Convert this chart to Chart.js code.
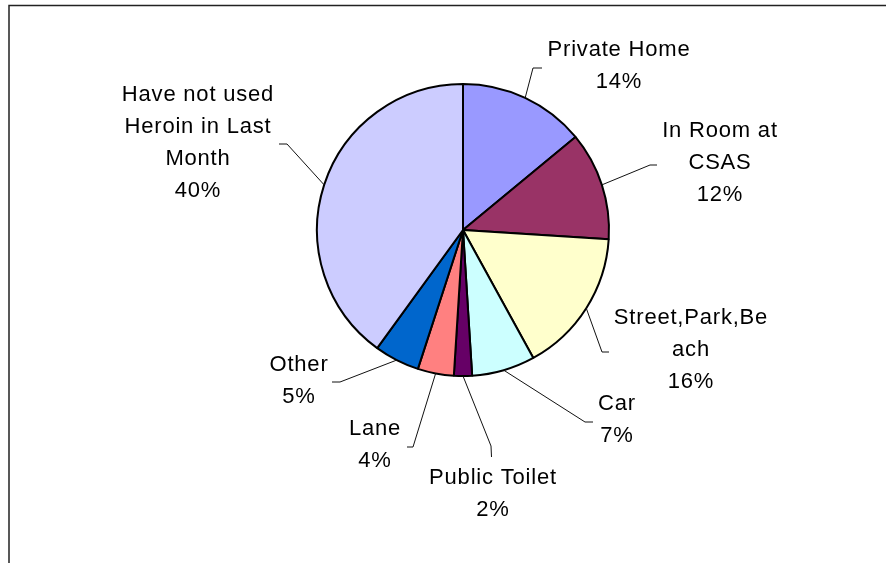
<!DOCTYPE html>
<html>
<head>
<meta charset="utf-8">
<script src="https://cdn.jsdelivr.net/npm/chart.js@4/dist/chart.umd.min.js"></script>
<style>
  html, body { margin: 0; padding: 0; background: #fff; }
  #wrap { width: 886px; height: 563px; position: relative; }
</style>
</head>
<body>
<div id="wrap"><canvas id="pie"></canvas></div>
<script>
// slice names, already broken into the lines they are printed on
const categories = [
    ["Private Home"],
    ["In Room at", "CSAS"],
    ["Street,Park,Be", "ach"],
    ["Car"],
    ["Public Toilet"],
    ["Lane"],
    ["Other"],
    ["Have not used", "Heroin in Last", "Month"],
];
const shares = [14, 12, 16, 7, 2, 4, 5, 40];
const sliceColors = ["#9999FF", "#993366", "#FFFFCC", "#CCFFFF", "#660066", "#FF8080", "#0066CC", "#CCCCFF"];

// label placement relative to the pie centre: text centre, leader elbow, leader tail
const labelLayout = [
    { text: [156, -180], elbow: [70, -162], tail: [79, -162] },
    { text: [257, -99], elbow: [187, -65], tail: [194, -65] },
    { text: [228, 88], elbow: [139, 122], tail: [146, 122] },
    { text: [154, 174], elbow: [122, 192], tail: [130, 192] },
    { text: [30, 248], elbow: [28, 216], tail: [28.5, 227] },
    { text: [-88, 199], elbow: [-50, 217], tail: [-56, 217] },
    { text: [-164, 135], elbow: [-123, 152], tail: [-131, 152] },
    { text: [-265, -135], elbow: [-176, -86], tail: [-184, -86] },
];

const LINE_H = 32;

const framePlugin = {
    id: "frame",
    beforeDraw(chart) {
        const ctx = chart.ctx;
        ctx.save();
        ctx.fillStyle = "#fff";
        ctx.fillRect(0, 0, chart.width, chart.height);
        ctx.strokeStyle = "#222";
        ctx.lineWidth = 1.5;
        ctx.beginPath();
        ctx.moveTo(9, chart.height);
        ctx.lineTo(9, 5.5);
        ctx.lineTo(chart.width, 5.5);
        ctx.stroke();
        ctx.restore();
    },
};

const sliceLabels = {
    id: "sliceLabels",
    afterDatasetsDraw(chart) {
        const ctx = chart.ctx;
        const meta = chart.getDatasetMeta(0);
        ctx.save();
        meta.data.forEach((arc, i) => {
            const p = arc.getProps(["x", "y", "startAngle", "endAngle", "outerRadius"], true);
            const mid = (p.startAngle + p.endAngle) / 2;
            const sx = p.x + Math.cos(mid) * p.outerRadius;
            const sy = p.y + Math.sin(mid) * p.outerRadius;
            const lay = labelLayout[i];

            // leader line
            ctx.strokeStyle = "#111";
            ctx.lineWidth = 1;
            ctx.beginPath();
            ctx.moveTo(sx, sy);
            ctx.lineTo(p.x + lay.elbow[0], p.y + lay.elbow[1]);
            ctx.lineTo(p.x + lay.tail[0], p.y + lay.tail[1]);
            ctx.stroke();

            // name lines plus percentage
            const lines = categories[i].concat([shares[i] + "%"]);
            ctx.fillStyle = "#000";
            ctx.font = '22px "Liberation Sans", Arial, sans-serif';
            if ("letterSpacing" in ctx) ctx.letterSpacing = "0.8px";
            ctx.textAlign = "center";
            ctx.textBaseline = "middle";
            lines.forEach((ln, k) => {
                ctx.fillText(ln, p.x + lay.text[0], p.y + lay.text[1] + k * LINE_H);
            });
        });
        ctx.restore();
    },
};

new Chart(document.getElementById("pie"), {
    type: "pie",
    data: {
        labels: categories,
        datasets: [{
            data: shares,
            backgroundColor: sliceColors,
            borderColor: "#000",
            borderWidth: 2,
        }],
    },
    options: {
        responsive: true,
        maintainAspectRatio: false,
        animation: false,
        radius: 146,
        layout: { padding: { left: 60, right: 20, top: 20, bottom: 123 } },
        plugins: {
            legend: { display: false },
            tooltip: { enabled: false },
        },
    },
    plugins: [framePlugin, sliceLabels],
});
</script>
</body>
</html>
